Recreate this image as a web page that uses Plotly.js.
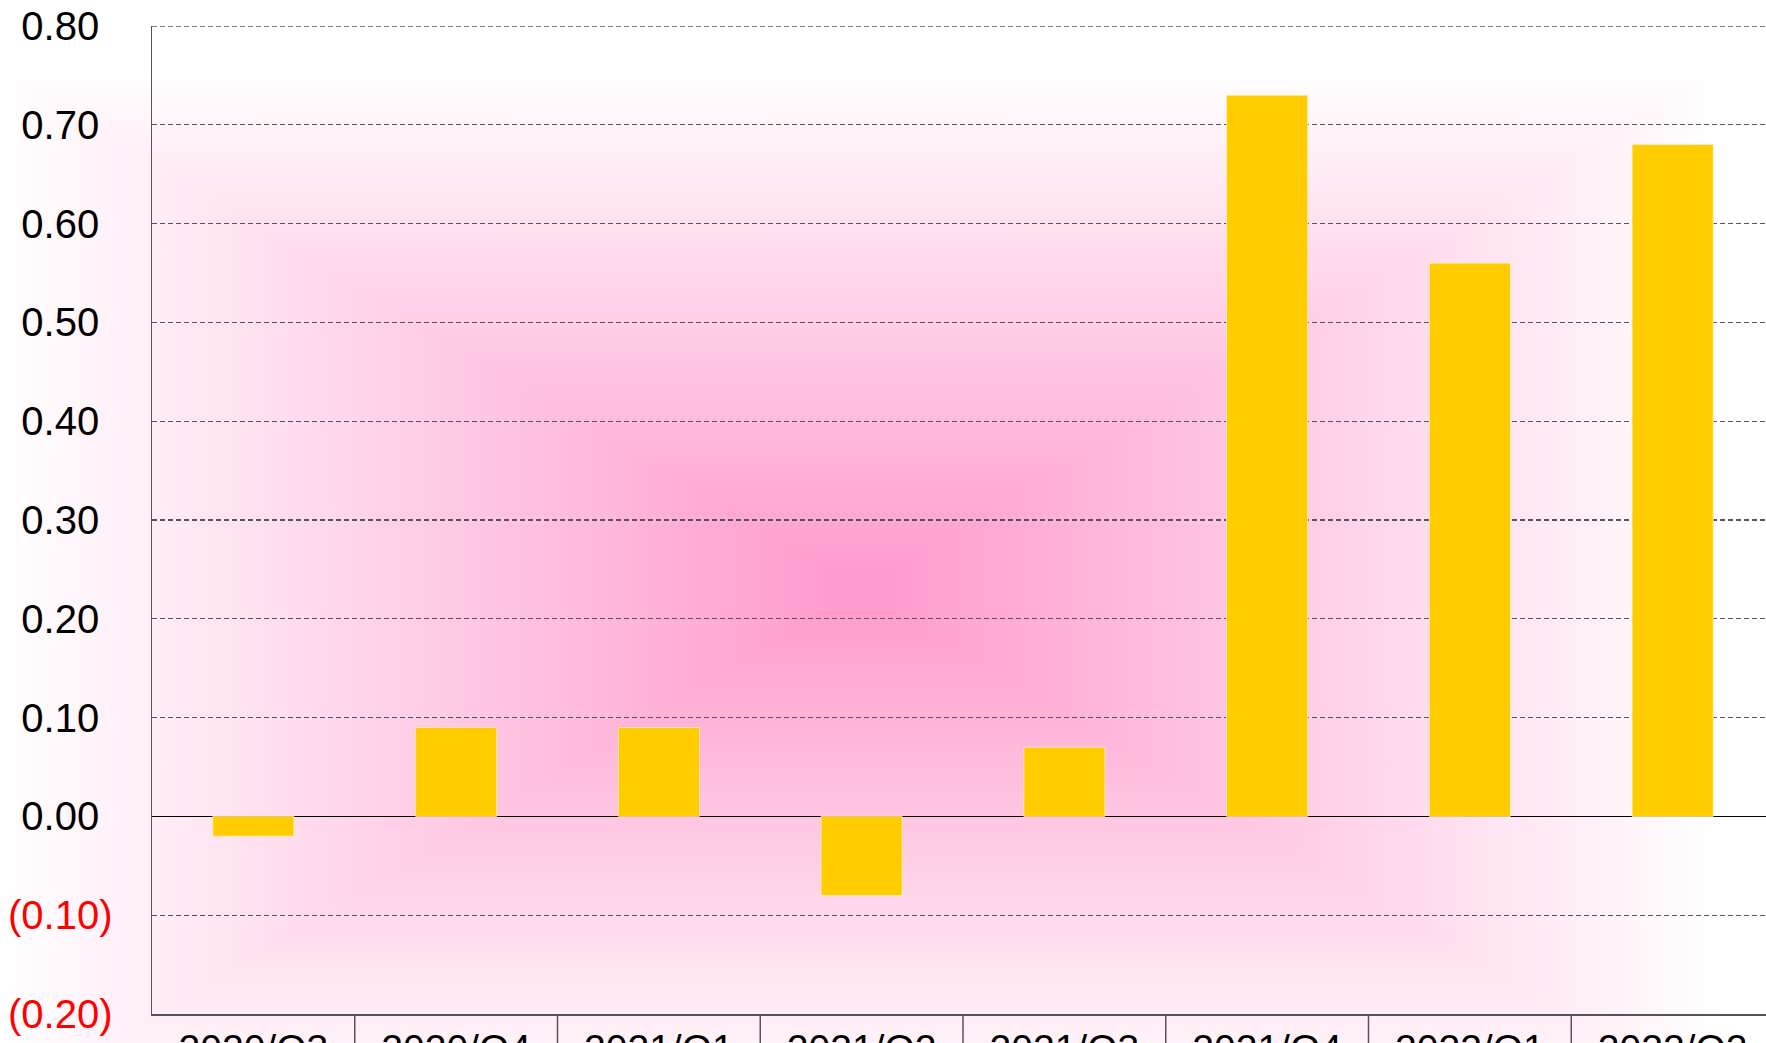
<!DOCTYPE html>
<html>
<head>
<meta charset="utf-8">
<script src="https://cdn.plot.ly/plotly-3.0.1.min.js"></script>
<style>
  html, body { margin: 0; padding: 0; overflow: hidden; width: 1766px; height: 1043px; background: #fff; }
  #wrap {
    position: absolute; left: 0; top: 0; width: 1774px; height: 1100px;
    background-image:
      linear-gradient(to right, #ffffff 0px, #ff99cc 860px, #ffffff 1720px),
      linear-gradient(to bottom, #ffffff 70px, #ff99cc 590px, #ffffff 1110px);
    background-blend-mode: lighten;
  }
  #chart { width: 1774px; height: 1100px; }
</style>
</head>
<body>
<div id="wrap"><div id="chart"></div></div>
<script>
// Data
const categories = ["2020/Q3", "2020/Q4", "2021/Q1", "2021/Q2", "2021/Q3", "2021/Q4", "2022/Q1", "2022/Q2"];
const values = [-0.02, 0.09, 0.09, -0.08, 0.07, 0.73, 0.56, 0.68];
const yTickVals = [-0.2, -0.1, 0.0, 0.1, 0.2, 0.3, 0.4, 0.5, 0.6, 0.7, 0.8];
const yTickLabels = ["(0.20)", "(0.10)", "0.00", "0.10", "0.20", "0.30", "0.40", "0.50", "0.60", "0.70", "0.80"];

const yTickText = yTickVals.map((v, i) => v < 0
  ? "<span style='color:#ff0000'>" + yTickLabels[i] + "</span>"
  : yTickLabels[i] + "<span style='color:rgba(0,0,0,0)'>)</span>");

const yMin = Math.min(...yTickVals), yMax = Math.max(...yTickVals);

const shapes = [];
for (let i = 0; i < categories.length - 1; i++) {
  shapes.push({
    type: "line", xref: "x", yref: "paper",
    x0: i + 0.5, x1: i + 0.5, y0: 0, y1: -0.1,
    line: { color: "#555555", width: 1.5 }
  });
}
// top gridline (Plotly drops the one lying on the plot edge)
shapes.push({
  type: "line", xref: "paper", yref: "y", layer: "below",
  x0: 0, x1: 1, y0: yMax, y1: yMax,
  line: { color: "#555555", width: 1.3, dash: "5px,3px" }
});

const trace = {
  type: "bar",
  x: categories,
  y: values,
  marker: { color: "#ffcc00", line: { color: "rgba(255,240,190,0.8)", width: 1 } },
  hoverinfo: "none"
};

const layout = {
  width: 1774, height: 1100,
  margin: { l: 152, r: 0, t: 26, b: 86 },
  paper_bgcolor: "rgba(0,0,0,0)",
  plot_bgcolor: "rgba(0,0,0,0)",
  font: { family: "'Liberation Sans', Arial, sans-serif", size: 39, color: "#000" },
  bargap: 0.6,
  showlegend: false,
  xaxis: {
    type: "category",
    range: [-0.5, categories.length - 0.5],
    showline: true, linecolor: "#555555", linewidth: 1.5,
    ticks: "", showgrid: false, zeroline: false,
    tickfont: { size: 39, color: "#000" }
  },
  yaxis: {
    range: [yMin, yMax],
    tickvals: yTickVals, ticktext: yTickText,
    showline: true, linecolor: "#555555", linewidth: 1.5,
    showgrid: true, gridcolor: "#555555", gridwidth: 1.3, griddash: "5px,3px",
    zeroline: true, zerolinecolor: "#000000", zerolinewidth: 1.5,
    ticks: "", ticklabelstandoff: 30,
    tickfont: { size: 40, color: "#000" }
  },
  shapes: shapes
};

Plotly.newPlot("chart", [trace], layout, { displayModeBar: false, staticPlot: true });
</script>
</body>
</html>
